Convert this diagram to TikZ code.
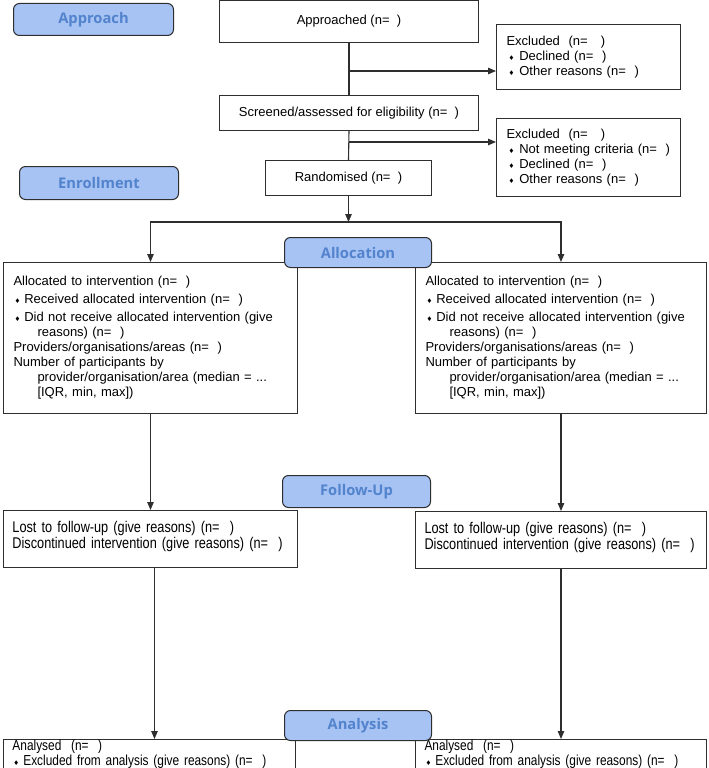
\documentclass[tikz,border=0pt]{standalone}
\usepackage{fontspec}
\usetikzlibrary{arrows.meta}
\setmainfont{Liberation Sans}
\newfontfamily\narrowfont[FakeStretch=0.82]{Liberation Sans}
\newfontfamily\phasefont{Open Sans}
\newfontfamily\symfont{DejaVu Sans}
\newcommand{\dmd}{{\symfont\fontsize{6.5}{6.5}\selectfont ♦}}
\newcommand{\nblank}{(n=\ \ )}
\definecolor{phasefill}{HTML}{A6C3F4}
\definecolor{phasetext}{HTML}{5283CC}
\definecolor{boxline}{HTML}{2E2E2E}

\tikzset{
  box/.style={draw=boxline, line width=1pt, rectangle, anchor=north west,
    inner xsep=10pt, inner ysep=0pt, align=left,
    font=\fontsize{13}{15}\selectfont},
  cbox/.style={box, align=center, inner xsep=0pt},
  nbox/.style={box, inner xsep=9pt, font=\narrowfont\fontsize{15.5}{16}\selectfont},
  phase/.style={draw=boxline, line width=1pt, rounded corners=6pt,
    fill=phasefill, text=phasetext, anchor=north west, inner sep=0pt,
    font=\phasefont\bfseries\fontsize{14.7}{16}\selectfont},
  flow/.style={line width=1.1pt, draw=boxline, -{Triangle[length=8pt,width=6.5pt]}},
  link/.style={line width=1.1pt, draw=boxline}
}

\begin{document}
\begin{tikzpicture}[x=1pt,y=-1pt]
\useasboundingbox (0,0) rectangle (709,768);

% enrolment part
\node[cbox, minimum width=259pt, minimum height=42pt] (appr) at (219,0) {Approached \nblank};
\node[box, text width=164pt, minimum height=65pt] (excl1) at (496,24)
  {Excluded\ \ (n=\ \ \ )\\
   \hspace*{2pt}\dmd\hspace{5pt}Declined \nblank\\
   \hspace*{2pt}\dmd\hspace{5pt}Other reasons \nblank};
\node[cbox, minimum width=259pt, minimum height=35pt] (screen) at (219,95) {Screened/assessed for eligibility \nblank};
\node[box, text width=164pt, minimum height=78pt] (excl2) at (496,118)
  {Excluded\ \ (n=\ \ \ )\\
   \hspace*{2pt}\dmd\hspace{5pt}Not meeting criteria \nblank\\
   \hspace*{2pt}\dmd\hspace{5pt}Declined \nblank\\
   \hspace*{2pt}\dmd\hspace{5pt}Other reasons \nblank};
\node[cbox, minimum width=166pt, minimum height=35pt] (rand) at (265,160) {Randomised \nblank};

\coordinate (j1) at (348.5,71);
\coordinate (j2) at (348.5,142);
\coordinate (split) at (348.5,222);

% allocation
\foreach \side/\x/\w in {L/3/274, R/415/271}{
\node[box, text width=\w pt, minimum height=151pt] (alloc\side) at (\x,262)
  {Allocated to intervention \nblank\\[3pt]
   \hspace*{1pt}\dmd\hspace{4pt}Received allocated intervention \nblank\\[3pt]
   \hspace*{1pt}\dmd\hspace{4pt}Did not receive allocated intervention (give\\
   \hspace*{24pt}reasons) \nblank\\
   Providers/organisations/areas \nblank\\
   Number of participants by\\
   \hspace*{24pt}provider/organisation/area (median = ...\\
   \hspace*{24pt}[IQR, min, max])};
}

% follow-up
\node[nbox, text width=276pt, minimum height=57pt, text depth=25pt] (followL) at (3,510)
  {Lost to follow-up (give reasons) \nblank\\
   Discontinued intervention (give reasons) \nblank};
\node[nbox, text width=273pt, minimum height=57pt, text depth=25pt] (followR) at (415,511)
  {Lost to follow-up (give reasons) \nblank\\
   Discontinued intervention (give reasons) \nblank};

% analysis
\node[nbox, text width=274pt, minimum height=29pt, font=\narrowfont\fontsize{14.5}{14.5}\selectfont] (anaL) at (3,739)
  {Analysed\ \ \nblank\\
   \hspace*{1pt}\dmd\hspace{4pt}Excluded from analysis (give reasons) \nblank};
\node[nbox, text width=273pt, minimum height=29pt, font=\narrowfont\fontsize{14.5}{14.5}\selectfont] (anaR) at (415,739)
  {Analysed\ \ \nblank\\
   \hspace*{1pt}\dmd\hspace{4pt}Excluded from analysis (give reasons) \nblank};

% connectors
\draw[link] (appr.south) -- (screen.north);
\draw[flow] (j1) -- (j1 -| excl1.west);
\draw[link] (screen.south) -- (rand.north);
\draw[flow] (j2) -- (j2 -| excl2.west);
\draw[flow] (rand.south) -- (split);
\draw[flow] (split) -| (allocL.north);
\draw[flow] (split) -| (allocR.north);
\draw[flow] (allocL.south) -- (followL.north);
\draw[flow] (allocR.south) -- (followR.north);
\draw[flow] ([xshift=4pt]followL.south) -- ([xshift=4pt]followL.south |- anaL.north);
\draw[flow] (followR.south) -- (anaR.north);

% phase labels
\node[phase, minimum width=160pt, minimum height=32pt] (approach) at (13,3) {Approach};
\node[phase, minimum width=159pt, minimum height=33pt] (enrol) at (19,166) {Enrollment};
\node[phase, minimum width=147pt, minimum height=30pt] (allocation) at (284,237) {Allocation};
\node[phase, minimum width=148pt, minimum height=32pt] (followup) at (282,475) {Follow-Up};
\node[phase, minimum width=147pt, minimum height=30pt] (analysis) at (284,710) {Analysis};
\end{tikzpicture}
\end{document}
